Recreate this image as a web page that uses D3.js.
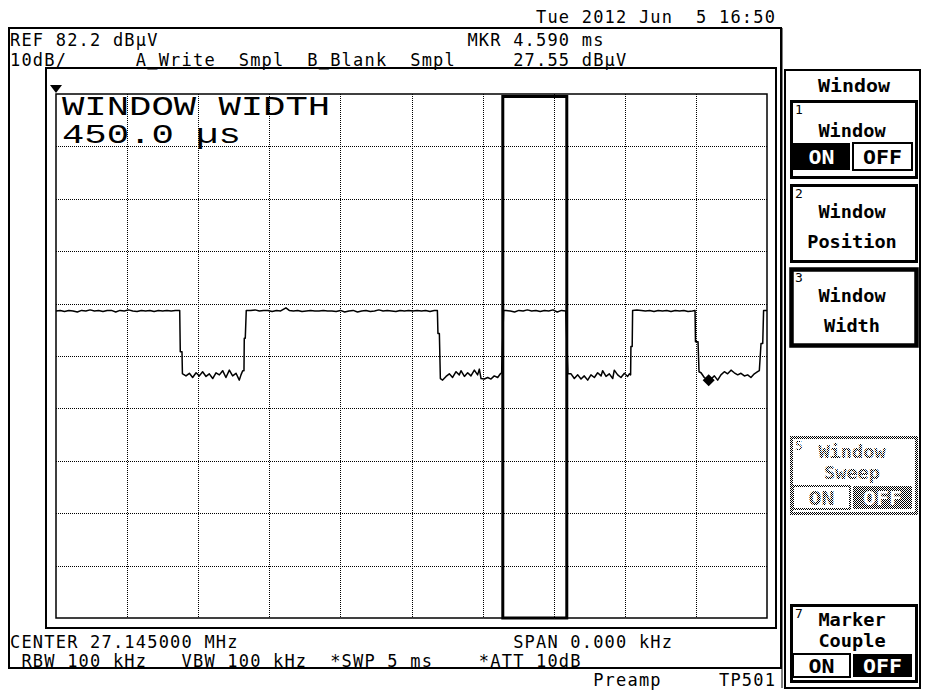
<!DOCTYPE html>
<html>
<head>
<meta charset="utf-8">
<script src="https://d3js.org/d3.v7.min.js"></script>
<style>
  body { margin: 0; background: #fff; }
  text { white-space: pre; }
</style>
</head>
<body>
<svg id="svg"></svg>
<script>
// instrument settings shown on screen
const refLevel = 82.2;     // dBuV at top graticule line
const dbPerDiv = 10;
const sweepMs = 5;
const divs = 10;

const markerT = 4.590;     // ms
const markerV = 27.55;     // dBuV
const windowCenter = 3.367; // ms
const windowWidth = 0.450;  // ms

// trace, [time ms, level dBuV]
const trace = [
  [0.000,40.8],[0.030,40.9],[0.060,40.7],[0.090,40.9],[0.120,40.8],[0.150,40.6],[0.180,40.9],[0.210,40.8],
  [0.240,41.0],[0.270,40.8],[0.300,40.9],[0.330,40.7],[0.360,40.9],[0.390,40.9],[0.420,40.6],[0.450,40.9],
  [0.480,40.8],[0.510,41.0],[0.540,40.8],[0.570,40.7],[0.600,40.9],[0.630,40.8],[0.660,40.9],[0.690,40.7],
  [0.720,40.9],[0.750,40.8],[0.780,40.9],[0.810,40.8],[0.840,40.9],[0.870,40.9],
  [0.874,33.0],[0.886,33.0],[0.889,28.8],
  [0.891,28.8],[0.914,28.4],[0.938,28.9],[0.961,28.1],[0.985,29.0],[1.008,28.4],[1.031,29.2],[1.055,28.3],
  [1.078,28.8],[1.102,27.9],[1.125,29.0],[1.149,28.6],[1.172,29.4],[1.195,28.1],[1.219,29.5],[1.242,28.4],
  [1.266,28.9],[1.289,27.6],[1.301,28.6],[1.313,29.4],
  [1.322,29.4],[1.324,35.6],[1.331,35.6],[1.338,40.9],
  [1.370,40.9],[1.400,41.0],[1.430,40.8],[1.460,40.9],[1.490,40.9],[1.520,40.7],[1.550,40.9],[1.580,40.8],
  [1.617,41.4],[1.640,40.9],[1.670,40.8],[1.700,40.9],[1.730,40.7],[1.760,40.8],[1.790,40.9],[1.820,40.8],
  [1.850,40.8],[1.880,40.9],[1.910,40.8],[1.940,40.8],[1.970,40.7],[2.000,40.9],[2.030,40.6],[2.060,40.8],
  [2.090,40.9],[2.120,40.6],[2.150,40.8],[2.180,40.9],[2.210,40.7],[2.240,40.8],[2.270,41.0],[2.300,40.8],
  [2.330,40.9],[2.360,40.8],[2.390,40.7],[2.420,40.9],[2.450,40.8],[2.480,40.9],[2.510,40.8],[2.540,40.9],
  [2.570,40.8],[2.600,40.9],[2.630,40.7],[2.660,40.9],[2.682,40.9],
  [2.686,36.5],[2.696,36.5],[2.703,27.9],
  [2.719,27.6],[2.743,28.3],[2.766,28.8],[2.789,28.1],[2.813,29.2],[2.836,28.6],[2.848,29.4],[2.872,28.3],
  [2.895,29.0],[2.918,28.4],[2.942,29.5],[2.965,28.6],[2.977,29.7],[2.989,27.9],[3.012,27.8],[3.036,28.1],
  [3.059,27.8],[3.082,28.4],[3.106,28.1],[3.125,28.8],[3.134,29.0],
  [3.138,32.7],[3.148,40.9],
  [3.165,40.9],[3.195,40.8],[3.225,40.6],[3.255,40.9],[3.285,40.8],[3.315,41.0],[3.345,40.8],[3.375,40.9],
  [3.405,40.7],[3.435,40.9],[3.465,40.8],[3.495,41.0],[3.525,40.6],[3.555,40.9],[3.585,40.8],
  [3.592,35.3],[3.600,28.8],
  [3.603,28.8],[3.622,28.8],[3.645,27.9],[3.669,28.6],[3.692,27.8],[3.715,28.4],[3.739,27.6],[3.762,28.6],
  [3.786,28.1],[3.809,29.0],[3.833,28.4],[3.844,29.4],[3.868,28.3],[3.891,28.8],[3.915,27.9],[3.926,29.5],
  [3.950,28.6],[3.973,28.1],[3.997,28.9],[4.020,28.3],[4.032,28.8],[4.041,28.6],
  [4.043,34.0],[4.052,34.0],[4.055,40.9],
  [4.085,41.0],[4.115,40.9],[4.145,40.8],[4.175,40.9],[4.205,40.7],[4.235,40.9],[4.265,40.8],[4.295,40.9],
  [4.325,40.7],[4.355,40.9],[4.385,40.8],[4.415,40.9],[4.445,40.7],[4.475,40.8],[4.494,40.9],
  [4.497,34.9],[4.515,34.9],[4.522,29.2],
  [4.536,29.0],[4.559,28.1],[4.583,27.6],[4.606,27.8],[4.630,28.4],[4.653,27.6],[4.676,28.6],[4.700,29.2],
  [4.723,28.8],[4.747,29.5],[4.770,29.0],[4.794,28.6],[4.817,28.9],[4.841,28.4],[4.864,28.6],[4.887,28.1],
  [4.911,28.8],[4.934,29.2],[4.946,29.4],
  [4.958,34.6],[4.970,34.6],[4.976,40.9],[5.000,40.9]
];

// status text, monospaced screen lines
const topLines = [
  " ".repeat(46) + "Tue 2012 Jun  5 16:50",
  "REF 82.2 dBµV" + " ".repeat(27) + "MKR 4.590 ms",
  "10dB/      A_Write  Smpl  B_Blank  Smpl     27.55 dBµV"
];
const bottomLines = [
  "CENTER 27.145000 MHz" + " ".repeat(24) + "SPAN 0.000 kHz",
  " RBW 100 kHz   VBW 100 kHz  *SWP 5 ms    *ATT 10dB",
  " ".repeat(51) + "Preamp     TP501"
];
const bigLines = ["WINDOW WIDTH", "450.0 µs"];

const menuTitle = "Window";
const softkeys = [
  { n: 1, lines: ["Window"], sel: "ON" },
  { n: 2, lines: ["Window", "Position"] },
  { n: 3, lines: ["Window", "Width"], active: true },
  { n: 4, lines: [] },
  { n: 5, lines: ["Window", "Sweep"], sel: "OFF", disabled: true },
  { n: 6, lines: [] },
  { n: 7, lines: ["Marker", "Couple"], sel: "OFF" }
];

const svg = d3.select("#svg").attr("width", 931).attr("height", 690);
svg.append("rect").attr("width", 931).attr("height", 690).attr("fill", "#fff");

const defs = svg.append("defs");
const pat = defs.append("pattern").attr("id", "dots")
  .attr("width", 2).attr("height", 2).attr("patternUnits", "userSpaceOnUse");
pat.append("rect").attr("width", 1).attr("height", 1).attr("fill", "#000");
pat.append("rect").attr("x", 1).attr("y", 1).attr("width", 1).attr("height", 1).attr("fill", "#000");

const x = d3.scaleLinear().domain([0, sweepMs]).range([56, 767]);
const y = d3.scaleLinear().domain([refLevel - dbPerDiv * divs, refLevel]).range([618, 94]);
const px = v => Math.round(v) + 0.5;

// frames
svg.append("rect").attr("x", 9).attr("y", 28).attr("width", 772).attr("height", 640)
  .attr("fill", "none").attr("stroke", "#000").attr("stroke-width", 2);
svg.append("rect").attr("x", 46).attr("y", 68).attr("width", 730).attr("height", 560)
  .attr("fill", "none").attr("stroke", "#000").attr("stroke-width", 2);

// graticule
const grid = svg.append("g");
grid.selectAll(".vg").data(d3.range(1, divs).map(i => i * sweepMs / divs)).enter()
  .append("line").attr("class", "vg")
  .attr("x1", d => px(x(d))).attr("x2", d => px(x(d)))
  .attr("y1", y.range()[1]).attr("y2", y.range()[0])
  .attr("stroke", "#000").attr("stroke-dasharray", "1,1");
grid.selectAll(".hg").data(d3.range(1, divs).map(i => refLevel - i * dbPerDiv)).enter()
  .append("line").attr("class", "hg")
  .attr("y1", d => px(y(d))).attr("y2", d => px(y(d)))
  .attr("x1", x.range()[0]).attr("x2", x.range()[1])
  .attr("stroke", "#000").attr("stroke-dasharray", "1,1");
grid.append("rect").attr("x", x(0)).attr("y", y(refLevel))
  .attr("width", x(sweepMs) - x(0)).attr("height", y(refLevel - 100) - y(refLevel))
  .attr("fill", "none").attr("stroke", "#000").attr("stroke-width", 1.5);

// reference level marker
svg.append("path").attr("transform", `translate(${x(0)},${y(refLevel)})`)
  .attr("d", "M-6,-9L6,-9L0,-1Z").attr("fill", "#000");

// big window width readout
const big = svg.append("g").attr("transform", "translate(62,115) scale(1.38,1)");
big.selectAll("text").data(bigLines).enter().append("text")
  .attr("x", 0).attr("y", (d, i) => i * 28)
  .attr("font-family", "Liberation Mono").attr("font-size", 27)
  .text(d => d);

// trace
const line = d3.line().x(d => x(d[0])).y(d => y(d[1]));
svg.append("path").datum(trace).attr("d", line)
  .attr("fill", "none").attr("stroke", "#000").attr("stroke-width", 1.5)
  .attr("stroke-linejoin", "round");

// window gate
svg.append("rect")
  .attr("x", x(windowCenter - windowWidth / 2)).attr("y", y(refLevel) + 2.5)
  .attr("width", x(windowCenter + windowWidth / 2) - x(windowCenter - windowWidth / 2))
  .attr("height", y(refLevel - 100) - y(refLevel) - 2.5)
  .attr("fill", "none").attr("stroke", "#000").attr("stroke-width", 3);

// marker
svg.append("path").attr("transform", `translate(${x(markerT)},${y(markerV)})`)
  .attr("d", "M0,-6L6,0L0,6L-6,0Z").attr("fill", "#000");

// status lines
const mono = "DejaVu Sans Mono";
svg.selectAll(".tl").data(topLines).enter().append("text").attr("class", "tl")
  .attr("x", 10).attr("y", (d, i) => [23, 46, 66][i])
  .attr("font-family", mono).attr("font-size", 17).attr("letter-spacing", 1.2).text(d => d);
svg.selectAll(".bl").data(bottomLines).enter().append("text").attr("class", "bl")
  .attr("x", 10).attr("y", (d, i) => [648, 667, 686][i])
  .attr("font-family", mono).attr("font-size", 17).attr("letter-spacing", 1.2).text(d => d);

// softkey panel
svg.append("line").attr("x1", 782).attr("x2", 782).attr("y1", 28).attr("y2", 688)
  .attr("stroke", "#000").attr("stroke-width", 1);
svg.append("rect").attr("x", 785).attr("y", 70).attr("width", 135).attr("height", 618)
  .attr("fill", "none").attr("stroke", "#000").attr("stroke-width", 2);
svg.append("text").attr("x", 854).attr("y", 92).attr("text-anchor", "middle")
  .attr("font-family", mono).attr("font-weight", "bold").attr("font-size", 17)
  .attr("textLength", 72).attr("lengthAdjust", "spacingAndGlyphs").text(menuTitle);

const keyTop = d3.scaleLinear().domain([1, 7]).range([100, 604]);
softkeys.filter(k => k.lines.length).forEach(k => {
  const top = keyTop(k.n);
  const ink = k.disabled ? "url(#dots)" : "#000";
  const g = svg.append("g");
  g.append("rect").attr("x", 791.5).attr("y", top + 1.5).attr("width", 125).attr("height", 76)
    .attr("fill", "none").attr("stroke", ink).attr("stroke-width", k.active ? 4.5 : 3);
  g.append("text").attr("x", 795).attr("y", top + 14)
    .attr("font-family", mono).attr("font-size", 13).attr("fill", ink).text(k.n);

  let base, rowTop, rowH;
  if (k.sel && k.lines.length === 1) { base = [37]; rowTop = 43; rowH = 27; }
  else if (k.sel) { base = [22, 43]; rowTop = 50; rowH = 23; }
  else { base = [34, 64]; }
  k.lines.forEach((s, i) => {
    g.append("text").attr("x", 852).attr("y", top + base[i]).attr("text-anchor", "middle")
      .attr("font-family", mono).attr("font-weight", "bold").attr("font-size", 18)
      .attr("fill", ink)
      .attr("textLength", s.length * 11.2).attr("lengthAdjust", "spacingAndGlyphs").text(s);
  });
  if (k.sel) {
    [["ON", 793, 57], ["OFF", 853, 59]].forEach(([lab, bx, bw]) => {
      const on = lab === k.sel;
      g.append("rect").attr("x", bx).attr("y", top + rowTop).attr("width", bw).attr("height", rowH)
        .attr("fill", on ? ink : "#fff").attr("stroke", on ? "none" : ink).attr("stroke-width", 2);
      g.append("text").attr("x", bx + bw / 2).attr("y", top + rowTop + rowH / 2 + 7)
        .attr("text-anchor", "middle").attr("font-family", mono).attr("font-weight", "bold")
        .attr("font-size", 19).attr("fill", on ? "#fff" : ink)
        .attr("textLength", lab.length * 13).attr("lengthAdjust", "spacingAndGlyphs").text(lab);
    });
  }
});
</script>
</body>
</html>
